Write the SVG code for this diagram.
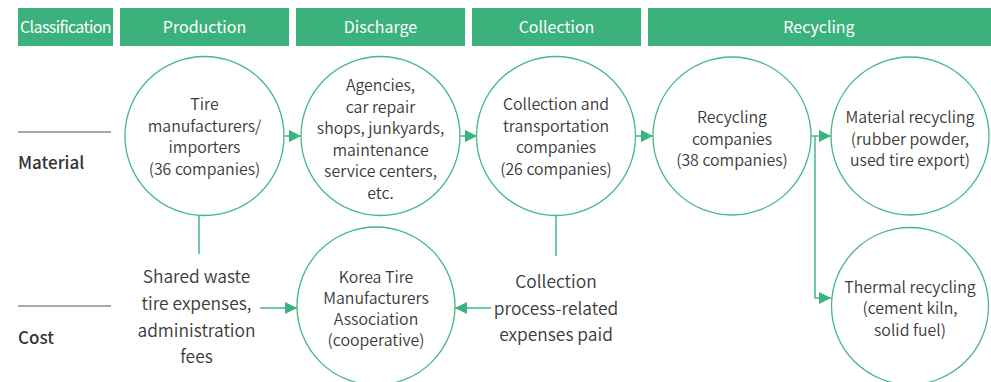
<svg xmlns="http://www.w3.org/2000/svg" width="991" height="382" viewBox="0 0 991 382">
<defs>
<style>
.hdr{fill:#3bb17b}
.ht{fill:#ffffff;font-family:"Noto Sans CJK KR","Noto Sans",sans-serif;font-size:16px;text-anchor:middle}
.c{fill:#ffffff;stroke:#45b883;stroke-width:1.3}
.t{fill:#3a3a3a;font-family:"Noto Sans CJK KR","Noto Sans",sans-serif;font-size:15.9px;font-weight:350;text-anchor:middle}
.tb{fill:#3a3a3a;font-family:"Noto Sans CJK KR","Noto Sans",sans-serif;font-size:17.4px;font-weight:350;text-anchor:middle}
.lab{fill:#333333;font-family:"Noto Sans CJK KR","Noto Sans",sans-serif;font-size:17px;font-weight:500}
.ln{stroke:#45b883;stroke-width:1.5;fill:none}
.rule{stroke:#555555;stroke-width:1.2}
</style>
<marker id="ah" viewBox="0 0 12 12" refX="12" refY="6" markerWidth="12" markerHeight="12" markerUnits="userSpaceOnUse" orient="auto">
<path d="M0,0 L12,6 L0,12 Z" fill="#3bb17b"/>
</marker>
</defs>
<g id="headers">
<rect class="hdr" x="18" y="8" width="95" height="38"/>
<text class="ht" x="65.5" y="33" font-size="15" letter-spacing="-0.6">Classification</text>
<rect class="hdr" x="120" y="8" width="169" height="38"/>
<text class="ht" x="204.5" y="33">Production</text>
<rect class="hdr" x="296" y="8" width="169" height="38"/>
<text class="ht" x="380.5" y="33">Discharge</text>
<rect class="hdr" x="472" y="8" width="169" height="38"/>
<text class="ht" x="556.5" y="33">Collection</text>
<rect class="hdr" x="648" y="8" width="343" height="38"/>
<text class="ht" x="819" y="33">Recycling</text>
</g>
<g id="row-labels">
<line class="rule" x1="18" y1="132" x2="111" y2="132"/>
<text class="lab" x="18" y="169">Material</text>
<line class="rule" x1="18" y1="306" x2="111" y2="306"/>
<text class="lab" x="18" y="344">Cost</text>
</g>
<g id="connectors">
<line class="ln" x1="284" y1="136" x2="301" y2="136" marker-end="url(#ah)"/>
<line class="ln" x1="460" y1="136" x2="477" y2="136" marker-end="url(#ah)"/>
<line class="ln" x1="635" y1="136" x2="653" y2="136" marker-end="url(#ah)"/>
<line class="ln" x1="811" y1="136" x2="831" y2="136" marker-end="url(#ah)"/>
<polyline class="ln" points="815,136 815,298 831,298" marker-end="url(#ah)"/>
<line class="ln" x1="199" y1="215" x2="199" y2="254"/>
<line class="ln" x1="556" y1="215" x2="556" y2="256"/>
<line class="ln" x1="260" y1="308" x2="297" y2="308" marker-end="url(#ah)"/>
<line class="ln" x1="491" y1="308" x2="455" y2="308" marker-end="url(#ah)"/>
</g>
<g id="n-tire">
<circle class="c" cx="204.5" cy="136" r="79.5"/>
<text class="t" x="204.5" y="110">Tire</text>
<text class="t" x="204.5" y="131.5">manufacturers/</text>
<text class="t" x="204.5" y="153">importers</text>
<text class="t" x="204.5" y="174.5">(36 companies)</text>
</g>
<g id="n-agencies">
<circle class="c" cx="380.5" cy="136" r="79.5"/>
<text class="t" x="380.5" y="91">Agencies,</text>
<text class="t" x="380.5" y="112.5">car repair</text>
<text class="t" x="380.5" y="134">shops, junkyards,</text>
<text class="t" x="380.5" y="155.5">maintenance</text>
<text class="t" x="380.5" y="177">service centers,</text>
<text class="t" x="380.5" y="198.5">etc.</text>
</g>
<g id="n-collection">
<circle class="c" cx="556" cy="136" r="79.5"/>
<text class="t" x="556" y="110">Collection and</text>
<text class="t" x="556" y="131.5">transportation</text>
<text class="t" x="556" y="153">companies</text>
<text class="t" x="556" y="174.5">(26 companies)</text>
</g>
<g id="n-recycling">
<circle class="c" cx="732" cy="136" r="79"/>
<text class="t" x="732" y="123">Recycling</text>
<text class="t" x="732" y="144.5">companies</text>
<text class="t" x="732" y="166">(38 companies)</text>
</g>
<g id="n-material">
<circle class="c" cx="910" cy="136" r="79"/>
<text class="t" x="910" y="123">Material recycling</text>
<text class="t" x="910" y="144.5">(rubber powder,</text>
<text class="t" x="910" y="166">used tire export)</text>
</g>
<g id="n-thermal">
<circle class="c" cx="910" cy="306" r="78.5"/>
<text class="t" x="910" y="292.5">Thermal recycling</text>
<text class="t" x="910" y="314">(cement kiln,</text>
<text class="t" x="910" y="335.5">solid fuel)</text>
</g>
<g id="n-association">
<circle class="c" cx="376" cy="306" r="79"/>
<text class="t" x="376" y="283">Korea Tire</text>
<text class="t" x="376" y="304">Manufacturers</text>
<text class="t" x="376" y="325">Association</text>
<text class="t" x="376" y="346">(cooperative)</text>
</g>
<g id="n-shared">
<text class="tb" x="196.5" y="283">Shared waste</text>
<text class="tb" x="196.5" y="310">tire expenses,</text>
<text class="tb" x="196.5" y="336.5">administration</text>
<text class="tb" x="196.5" y="363">fees</text>
</g>
<g id="n-paid">
<text class="tb" x="556" y="288">Collection</text>
<text class="tb" x="556" y="314.5">process-related</text>
<text class="tb" x="556" y="341">expenses paid</text>
</g>
</svg>
